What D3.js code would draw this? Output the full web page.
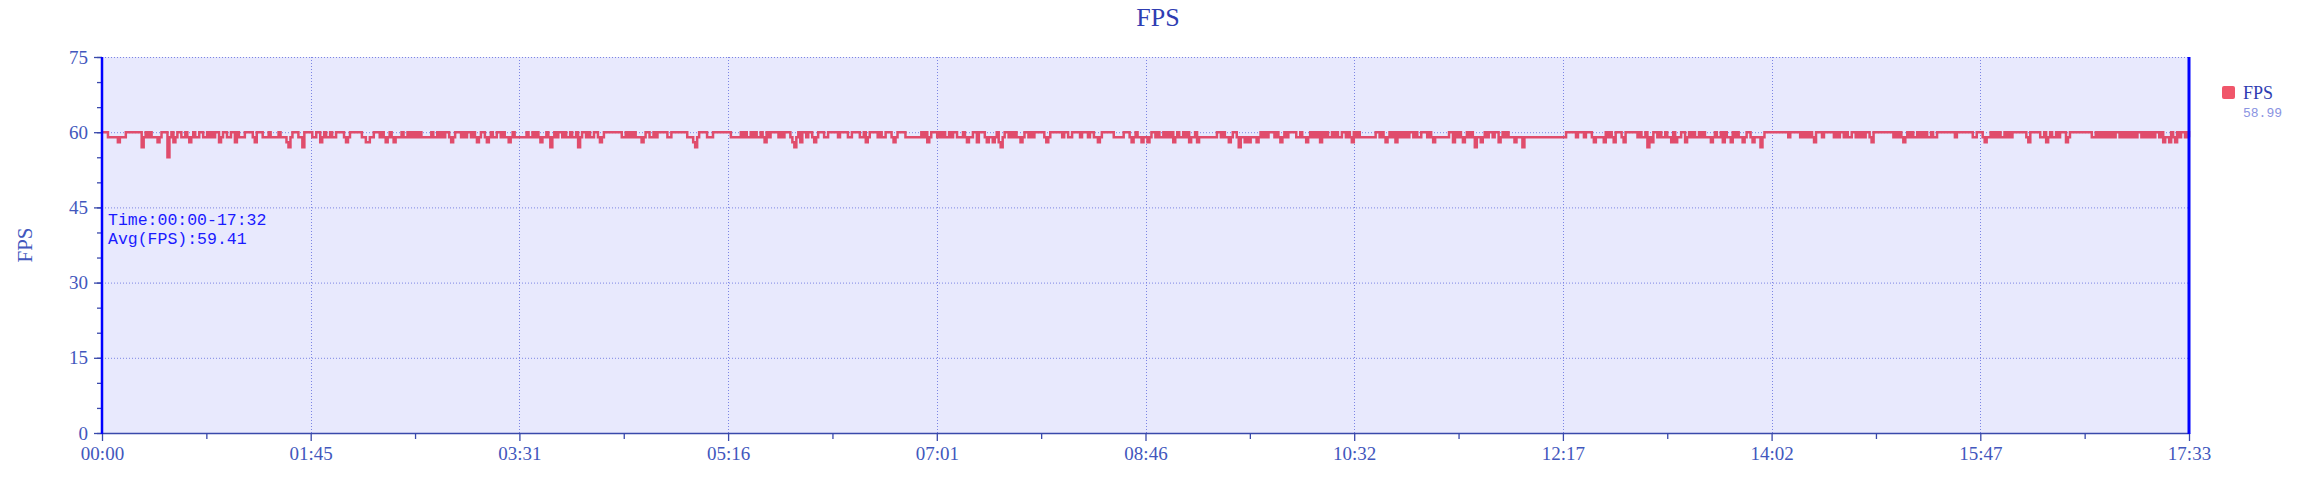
<!DOCTYPE html>
<html><head>
<meta charset="utf-8">
<title>FPS</title>
<script src="https://cdnjs.cloudflare.com/ajax/libs/d3/7.8.5/d3.min.js"></script>
<style>
  body { margin: 0; background: #fff; }
  .axis path { display: none; }
  .axis line { stroke: #3949ab; stroke-width: 1.3; }
  .axis text { fill: #4257bd; font-size: 19px; font-family: "Liberation Serif", serif; }
</style>
</head>
<body>
<svg id="chart" width="2298" height="497"></svg>
<script>

// y ticks (fps) and x tick labels (mm:ss)
const yTicks = [0, 15, 30, 45, 60, 75];
const xTickLabels = ["00:00", "01:45", "03:31", "05:16", "07:01", "08:46",
                     "10:32", "12:17", "14:02", "15:47", "17:33"];
const duration = 1052.6;   // seconds spanned by the x axis

// one digit per second = how many fps below 60 the line sits
// so "0" is 60 fps, "1" is 59, "5" is 55 ...
const fpsDrops = [
  "0001111121 1100000000 3101011121 0005102100 1101210110",
  "0110101002 1001100201 1100001200 0111011110 1112310001",
  "1300001100 2101101100 0012100000 0112211000 1012101211",
  "1011010101 0111110110 1010012100 0101001012 1001210110",
  "0101121011 1111011010 1211013101 0010110110 3100101100",
  "1210000000 0011010101 1121001101 0000011000 0000011123",
  "1000011100 0000000111 1101011010 1101201000 0101000123",
  "1020010012 1000110000 0100001100 0011021000 0101100012",
  "1000011111 1110102100 0101011010 0111012110 0200012112",
  "1023100101 0112100101 0000012100 0000100110 0001000100",
  "1121000000 1111100012 1011211210 0101101010 2101101021",
  "1021111111 1100101121 0013112121 1121010100 0101210100",
  "0011011210 1010201011 0101100101 2010111111 1100101210",
  "1020101010 0101100010 1211111110 0201012101 0131121010",
  "0100210101 1121113111 1111111111 1111111100 0001000100",
  "0121111201 0120001200 0000101103 1200101101 1202110021",
  "0101101011 1210110201 1201011210 0121113100 0000000000",
  "1000001010 1012000100 0001010010 1100101010 0120000000",
  "0001010121 0101101010 1101100000 0000100000 0001100012",
  "1101010110 1010000000 1200000110 2101101000 2100000000",
  "0001101010 1010100101 0101010010 1010100102 1120120100",
  "101"
];
const fps = fpsDrops.join("").replace(/\s/g, "").split("").map(c => 60 - (+c));

const avgText = "Avg(FPS):59.41";
const timeText = "Time:00:00-17:32";
const legendValue = "58.99";

const svg = d3.select("#chart");
const plotLeft = 102, plotRight = 2189, plotTop = 57, plotBottom = 433;

const x = d3.scaleLinear().domain([0, duration]).range([plotLeft, plotRight]);
const y = d3.scaleLinear().domain([0, 75]).range([plotBottom, plotTop]);

const xMajor = d3.range(11).map(i => i * duration / 10);
const xMinor = d3.range(10).map(i => (i + 0.5) * duration / 10);

// plot background
svg.append("rect")
   .attr("x", plotLeft).attr("y", plotTop)
   .attr("width", plotRight - plotLeft).attr("height", plotBottom - plotTop)
   .attr("fill", "#e8e9fd");

// dotted grid
const grid = svg.append("g").attr("stroke", "#7c85e4").attr("stroke-width", 1)
                .attr("stroke-dasharray", "1,2");
grid.selectAll("line.h").data(yTicks).join("line").attr("class", "h")
    .attr("x1", plotLeft).attr("x2", plotRight)
    .attr("y1", d => y(d) + 0.5).attr("y2", d => y(d) + 0.5);
grid.selectAll("line.v").data(xMajor.slice(1, -1)).join("line").attr("class", "v")
    .attr("x1", d => Math.round(x(d)) + 0.5).attr("x2", d => Math.round(x(d)) + 0.5)
    .attr("y1", plotTop).attr("y2", plotBottom);

// fps line
const line = d3.line()
  .x((d, i) => x(i * duration / (fps.length - 1)))
  .y(d => y(d))
  .curve(d3.curveStepAfter);
svg.append("path").datum(fps)
   .attr("d", line)
   .attr("fill", "none")
   .attr("stroke", "#e04c6c")
   .attr("stroke-width", 2.5);

// y axis: major + minor ticks
svg.append("g").attr("class", "axis")
   .attr("transform", `translate(${plotLeft},0)`)
   .call(d3.axisLeft(y).tickValues(d3.range(0, 76, 5)).tickSize(5).tickFormat(""));
svg.append("g").attr("class", "axis")
   .attr("transform", `translate(${plotLeft},0)`)
   .call(d3.axisLeft(y).tickValues(yTicks).tickSize(8).tickPadding(6));

// x axis: major + minor ticks
svg.append("g").attr("class", "axis")
   .attr("transform", `translate(0,${plotBottom})`)
   .call(d3.axisBottom(x).tickValues(xMinor).tickSize(6).tickFormat(""));
svg.append("g").attr("class", "axis")
   .attr("transform", `translate(0,${plotBottom})`)
   .call(d3.axisBottom(x).tickValues(xMajor).tickSize(8).tickPadding(6)
          .tickFormat((d, i) => xTickLabels[i]));

svg.append("line").attr("x1", plotLeft).attr("x2", plotRight + 1)
   .attr("y1", plotBottom + 0.5).attr("y2", plotBottom + 0.5)
   .attr("stroke", "#3949ab").attr("stroke-width", 1.5);
svg.append("line").attr("x1", plotLeft).attr("x2", plotLeft)
   .attr("y1", plotTop).attr("y2", plotBottom + 1)
   .attr("stroke", "#0000ff").attr("stroke-width", 2.5);
svg.append("line").attr("x1", plotRight).attr("x2", plotRight)
   .attr("y1", plotTop).attr("y2", plotBottom + 1)
   .attr("stroke", "#0000ff").attr("stroke-width", 3);

// titles
svg.append("text").attr("x", 1158).attr("y", 26)
   .attr("text-anchor", "middle")
   .style("font-family", "'Liberation Serif', serif").style("font-size", "26px")
   .attr("fill", "#2f3db2").text("FPS");

svg.append("text")
   .attr("transform", `translate(32,${(plotTop + plotBottom) / 2}) rotate(-90)`)
   .attr("text-anchor", "middle")
   .style("font-family", "'Liberation Serif', serif").style("font-size", "21px")
   .attr("fill", "#4257bd").text("FPS");

// annotation in the plot
const note = svg.append("g")
   .style("font-family", "'Liberation Mono', monospace").style("font-size", "16.5px")
   .attr("fill", "#1a1aff");
note.append("text").attr("x", 108).attr("y", 225).text(timeText);
note.append("text").attr("x", 108).attr("y", 244).text(avgText);

// legend
svg.append("rect").attr("x", 2222).attr("y", 86).attr("width", 13).attr("height", 13)
   .attr("rx", 2).attr("fill", "#f0566a");
svg.append("text").attr("x", 2243).attr("y", 99)
   .style("font-family", "'Liberation Serif', serif").style("font-size", "18px")
   .attr("fill", "#2f3db2").text("FPS");
svg.append("text").attr("x", 2243).attr("y", 117)
   .style("font-family", "'Liberation Mono', monospace").style("font-size", "13px")
   .attr("fill", "#8a93e2").text(legendValue);

</script>
</body>
</html>
